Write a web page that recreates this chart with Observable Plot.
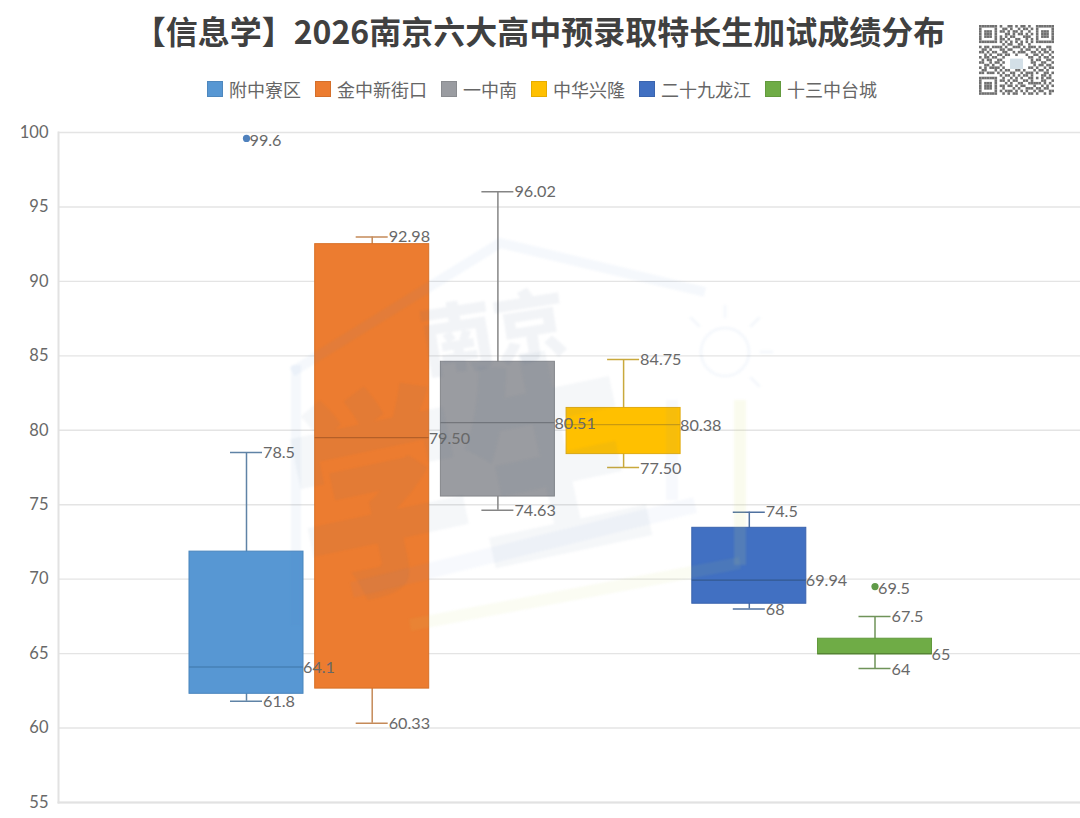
<!DOCTYPE html>
<html lang="zh">
<head>
<meta charset="utf-8">
<script src="https://cdn.jsdelivr.net/npm/d3@7"></script>
<script src="https://cdn.jsdelivr.net/npm/@observablehq/plot@0.6"></script>
<style>
html,body{margin:0;padding:0;background:#fff;overflow:hidden;}
#page{position:relative;width:1080px;height:818px;font-family:"Noto Sans CJK SC",sans-serif;}
#head{position:relative;height:118px;}
#title{position:absolute;left:0;width:1090px;top:8px;text-align:center;font-size:32px;font-weight:700;color:#404040;line-height:44px;white-space:nowrap;text-indent:-11px;}
#legend{position:absolute;left:4px;width:1076px;top:77px;display:flex;justify-content:center;gap:14px;font-size:18px;line-height:24px;color:#666;}
#legend span.item{display:flex;align-items:center;gap:6px;}
#legend i{display:block;width:16px;height:16px;box-sizing:border-box;border:1px solid rgba(0,0,0,.1);}
#qr{position:absolute;left:979px;top:25px;filter:blur(.45px);}
#wm{position:absolute;left:0;top:0;pointer-events:none;}
#chart svg{display:block;}
</style>
</head>
<body>
<div id="page">
  <div id="head">
    <div id="title"></div>
    <div id="legend"></div>
  </div>
  <div id="chart"></div>
  <svg id="wm" width="1080" height="818" viewBox="0 0 1080 818" aria-hidden="true" style="filter:blur(1px)">
    <g fill="none" stroke-linejoin="miter">
      <path d="M292 372 L500 243 L705 292" stroke="#5b8fd0" stroke-opacity=".06" stroke-width="10"/>
      <path d="M296 365 L296 625" stroke="#5b8fd0" stroke-opacity=".06" stroke-width="10"/>
      <path d="M352 590 L695 505" stroke="#5b8fd0" stroke-opacity=".05" stroke-width="16"/>
      <path d="M672 400 L672 500" stroke="#5b8fd0" stroke-opacity=".05" stroke-width="12"/>
      <path d="M410 625 L740 563" stroke="#c8d860" stroke-opacity=".08" stroke-width="12"/>
      <path d="M740 400 L740 565" stroke="#d8e070" stroke-opacity=".12" stroke-width="12"/>
      <circle cx="725" cy="352" r="24" stroke="#5b8fd0" stroke-opacity=".06" stroke-width="3"/>
      <path d="M725 318 L725 305 M760 352 L773 352 M750 327 L760 317 M700 327 L690 317 M750 377 L760 387" stroke="#5b8fd0" stroke-opacity=".06" stroke-width="3"/>
    </g>
    <g fill="#4a6a94" font-family="Noto Sans CJK SC" font-weight="900">
      <text fill-opacity=".07" transform="translate(425,372) rotate(-9) scale(1,1.05)" font-size="74">南京</text>
      <text fill-opacity=".055" transform="translate(312,592) rotate(-12) scale(1,1.25)" font-size="176">学生</text>
    </g>
  </svg>
  <svg id="qr" width="75" height="75" viewBox="0 0 29 29" aria-hidden="true"></svg>
</div>
<script>
// ---- values ----
const titleText = "【信息学】2026南京六大高中预录取特长生加试成绩分布";
const schools = ["附中寮区", "金中新街口", "一中南", "中华兴隆", "二十九龙江", "十三中台城"];
const whiskerLow  = [61.8, 60.33, 74.63, 77.5, 68, 64];
const quartile1   = [62.3, 62.65, 75.55, 78.4, 68.35, 64.95];
const medians     = [64.1, 79.5, 80.51, 80.38, 69.94, 65];
const quartile3   = [71.85, 92.5, 84.6, 81.5, 73.45, 66];
const whiskerHigh = [78.5, 92.98, 96.02, 84.75, 74.5, 67.5];
const lowLabels    = ["61.8", "60.33", "74.63", "77.50", "68", "64"];
const medianLabels = ["64.1", "79.50", "80.51", "80.38", "69.94", "65"];
const highLabels   = ["78.5", "92.98", "96.02", "84.75", "74.5", "67.5"];
const outlierSchools = ["附中寮区", "十三中台城"];
const outlierValues  = [99.6, 69.5];
const outlierColors  = ["#4f81bd", "#5f9a48"];
const yTicks = [55, 60, 65, 70, 75, 80, 85, 90, 95, 100];
const fills    = ["#5797d3", "#ec7c30", "#9a9ca1", "#ffc000", "#4170c2", "#6fac46"];
const strokes  = ["#4a86bd", "#d87027", "#85878c", "#e0aa10", "#3a63ad", "#62993d"];
const whiskers = ["#5f83a6", "#c58a58", "#858585", "#c9a93c", "#4f719f", "#6f9359"];
const medianLines = ["#3f76a8", "#bb5f22", "#74767b", "#c99a10", "#33588f", "#558434"];

const rows = schools.map((name, i) => ({
  name, lo: whiskerLow[i], q1: quartile1[i], med: medians[i], q3: quartile3[i], hi: whiskerHigh[i],
  loL: lowLabels[i], medL: medianLabels[i], hiL: highLabels[i],
  fill: fills[i], stroke: strokes[i], wh: whiskers[i], ml: medianLines[i]
}));
const outliers = outlierSchools.map((name, i) => ({name, v: outlierValues[i], c: outlierColors[i]}));

// ---- header ----
document.getElementById("title").textContent = titleText;
const lg = d3.select("#legend");
schools.forEach((s, i) => {
  const it = lg.append("span").attr("class", "item");
  it.append("i").style("background", fills[i]);
  it.append("span").text(s);
});

// ---- chart ----
const labelFont = {fontFamily: "Lato, 'Open Sans', sans-serif", fontSize: 16.2, fill: "#686868"};
const capInset = (114 - 32) / 2;
const chart = Plot.plot({
  width: 1080, height: 700,
  marginTop: 14, marginBottom: 16, marginLeft: 58, marginRight: 0,
  style: {background: "transparent", overflow: "visible"},
  x: {type: "band", domain: schools, range: [183.15, 937.35], paddingInner: 0.093, paddingOuter: 0.0465, round: false, axis: null},
  y: {domain: [55, 100], label: null},
  color: {type: "identity"},
  marks: [
    Plot.gridY(yTicks, {stroke: "#e4e4e4", strokeOpacity: 1, strokeWidth: 1.4}),
    Plot.frame({anchor: "left", stroke: "#e2e2e2", strokeWidth: 2}),
    Plot.frame({anchor: "bottom", stroke: "#e2e2e2", strokeWidth: 2}),
    Plot.axisY({ticks: yTicks, tickSize: 0, tickPadding: 10, label: null, fontSize: 16.5, fontFamily: "Lato, 'Open Sans', sans-serif", color: "#686868", tickFormat: d => String(d)}),
    Plot.ruleX(rows, {x: "name", y1: "lo", y2: "hi", stroke: "wh", strokeWidth: 1.5}),
    Plot.tickY(rows, {x: "name", y: "hi", stroke: "wh", strokeWidth: 1.5, insetLeft: capInset, insetRight: capInset}),
    Plot.tickY(rows, {x: "name", y: "lo", stroke: "wh", strokeWidth: 1.5, insetLeft: capInset, insetRight: capInset}),
    Plot.barY(rows, {x: "name", y1: "q1", y2: "q3", fill: "fill", stroke: "stroke", strokeWidth: 1}),
    Plot.tickY(rows, {x: "name", y: "med", stroke: "ml", strokeWidth: 1.2}),
    Plot.dot(outliers, {x: "name", y: "v", r: 3.6, fill: "c", stroke: "none"}),
    Plot.text(rows, {x: "name", y: "hi", text: "hiL", dx: 16.5, textAnchor: "start", ...labelFont}),
    Plot.text(rows, {x: "name", y: "lo", text: "loL", dx: 16.5, dy: 1, textAnchor: "start", ...labelFont}),
    Plot.text(rows, {x: "name", y: "med", text: "medL", dx: 56.5, dy: 1, textAnchor: "start", ...labelFont}),
    Plot.text(outliers, {x: "name", y: "v", text: d => String(d.v), dx: 3, dy: 2, textAnchor: "start", ...labelFont})
  ]
});
document.getElementById("chart").appendChild(chart);

// ---- decorative QR-like badge ----
const qrRows = [
"11111110100110101101001111111",
"10000010011010010110101000001",
"10111010110101101001001011101",
"10111010001101011010101011101",
"10111010101011000111001011101",
"10000010110100110010101000001",
"11111110101010101010101111111",
"00000000010110011001000000000",
"10110111101001110101110100110",
"01101000110110001011001011010",
"11010110011001011100110101101",
"00101001101100100010011010010",
"10110110010000000001100101101",
"01011001100000000000101100110",
"11001011010000000000110011001",
"00110100100000000000010110110",
"10101111010000000001101001011",
"01100010101100110100010110100",
"11011101010011001011101001101",
"00000000101101010110100011010",
"11111110010010101001101010110",
"10000010110101100110100011001",
"10111010001010011001111101010",
"10111010110110101100010010101",
"10111010010001010011101101100",
"10000010101110101010010110011",
"11111110010101100101101001010",
"00000000000000000000000000000",
"00000000000000000000000000000"
];
const qr = d3.select("#qr");
qrRows.forEach((row, r) => [...row].forEach((c, k) => {
  if (c === "1") qr.append("rect").attr("x", k).attr("y", r).attr("width", 1).attr("height", 1).attr("fill", "#707070");
}));
qr.append("rect").attr("x", 12).attr("y", 13).attr("width", 5).attr("height", 4).attr("fill", "#d3dfe7");
</script>
</body>
</html>
